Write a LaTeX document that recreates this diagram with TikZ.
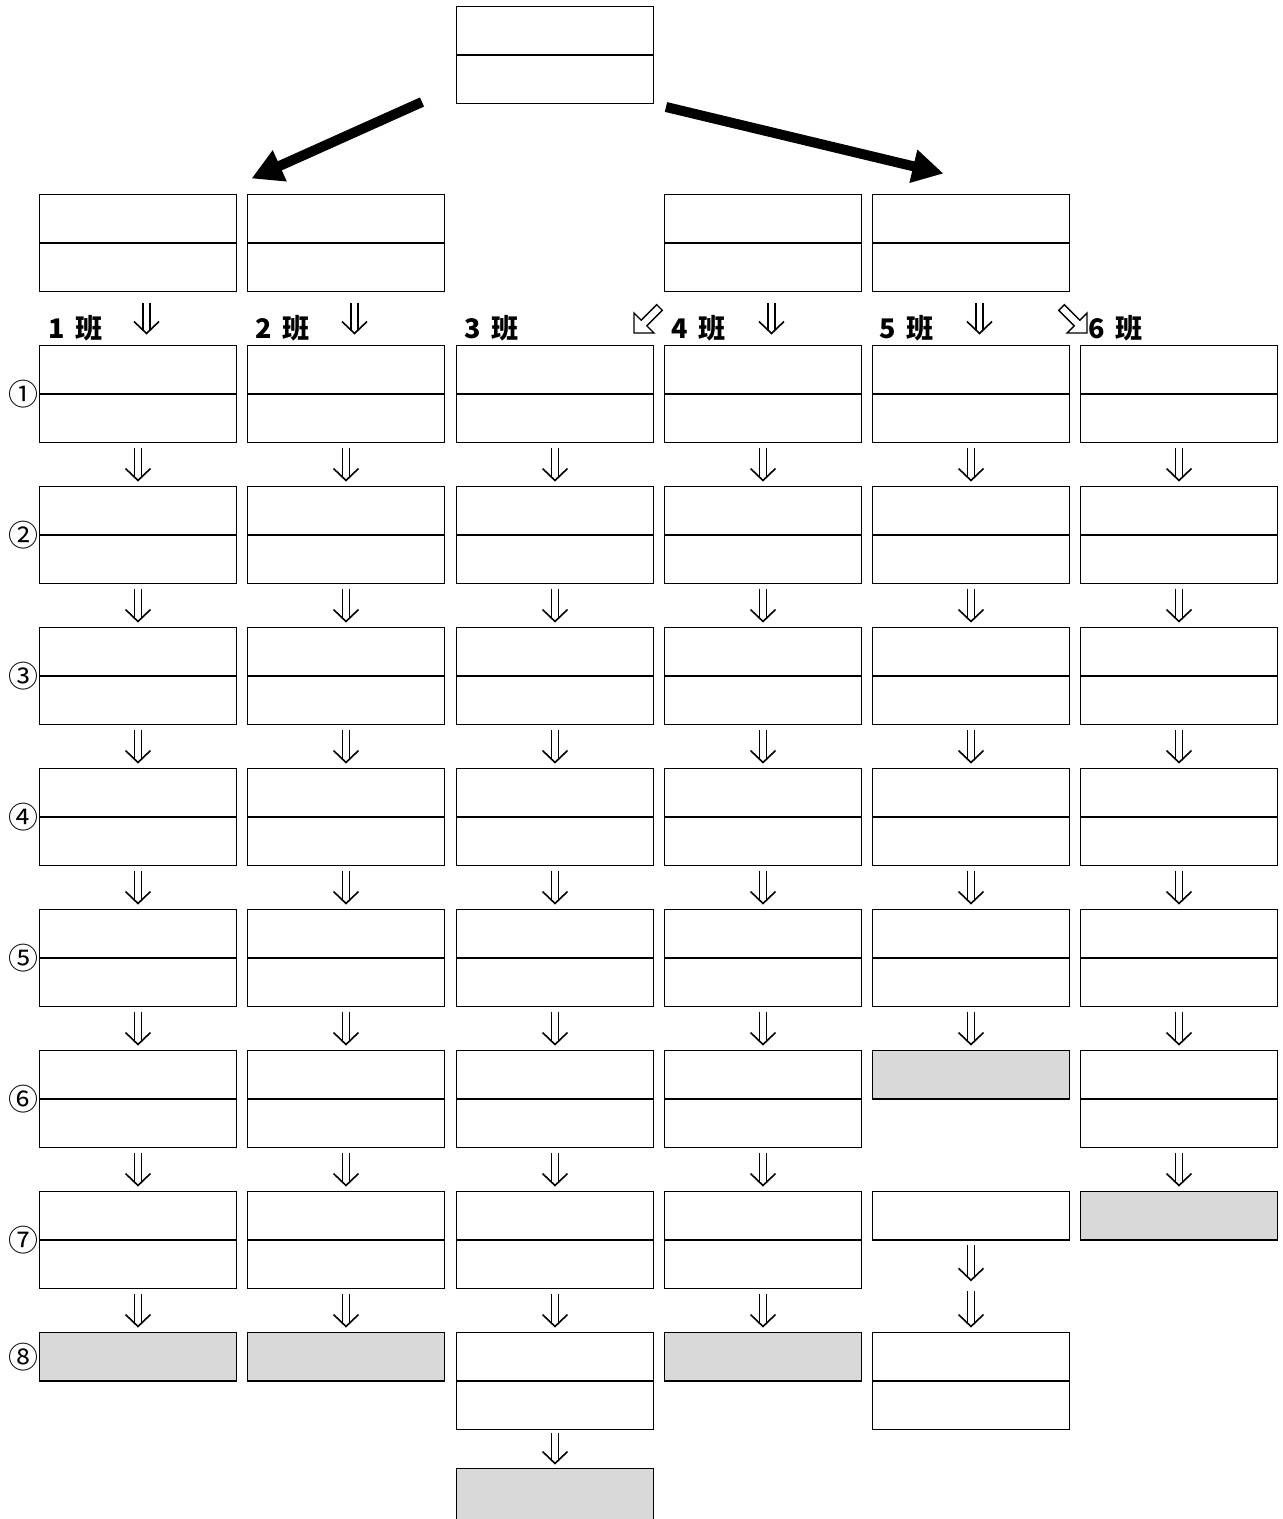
\documentclass[tikz,border=0pt]{standalone}
\usepackage{fontspec}
\newfontfamily\cjk{Noto Sans CJK JP}
\usetikzlibrary{calc,arrows.meta}
\definecolor{boxgray}{HTML}{D9D9D9}
\tikzset{
  box/.style={draw, line width=1.8pt, minimum width=197pt, minimum height=97pt, inner sep=0pt, outer sep=0pt, anchor=north west},
  halfbox/.style={box, minimum height=48.5pt},
  grayhalf/.style={halfbox, fill=boxgray},
  split/.style={line width=1.7pt},
  dline/.style={line width=1.6pt, line cap=butt, line join=miter},
  bigarrow/.style={line width=10pt, line cap=butt, -{Triangle[length=31pt,width=32pt]}},
  hollow/.style={draw, line width=1.4pt, fill=white, line join=miter},
  lab/.style={anchor=base west, inner sep=0pt, font=\cjk\bfseries\fontsize{27}{27}\selectfont},
  rowlab/.style={anchor=east, inner sep=0pt, font=\cjk\fontsize{30}{30}\selectfont},
}
\newcommand\gap{\hspace{0.42em}}
\newcommand\fullbox[3]{\node[box] (#1) at (#2,#3) {}; \draw[split] (#1.west) -- (#1.east);}
\newcommand\dblarrow[2]{%
  \coordinate (dA) at (#1);
  \coordinate (dB) at (#2);
  \draw[dline] ($(dA)+(-3.5,0)$) -- ($(dB)+(-3.5,-3.4)$);
  \draw[dline] ($(dA)+(3.5,0)$) -- ($(dB)+(3.5,-3.4)$);
  \draw[dline] ($(dB)+(-12.5,-12)$) -- (dB) -- ($(dB)+(12.5,-12)$);}
\begin{document}
\begin{tikzpicture}[x=1pt,y=-1pt]
\clip (0,0) rectangle (1283,1519);
\fill[white] (0,0) rectangle (1283,1519);
% top box
\fullbox{top}{456.5}{6.5}
% second level
\fullbox{b0-1}{39.5}{194.5}
\fullbox{b0-2}{247.5}{194.5}
\fullbox{b0-4}{664.5}{194.5}
\fullbox{b0-5}{872.5}{194.5}
% thick arrows
\coordinate (la0) at (422,102);
\coordinate (la1) at (251.5,178.5);
\coordinate (ra0) at (666,107);
\coordinate (ra1) at (943.5,173.5);
\draw[bigarrow] (la0) -- (la1);
\draw[bigarrow] (ra0) -- (ra1);
% rows 1-5
\foreach \r in {1,...,5}{
  \foreach \c/\x in {1/39.5,2/247.5,3/456.5,4/664.5,5/872.5,6/1080.5}{
    \pgfmathsetmacro\y{345.5+141*(\r-1)}
    \fullbox{b\r-\c}{\x}{\y}
  }
}
% row 6
\fullbox{b6-1}{39.5}{1050.5}
\fullbox{b6-2}{247.5}{1050.5}
\fullbox{b6-3}{456.5}{1050.5}
\fullbox{b6-4}{664.5}{1050.5}
\node[grayhalf] (b6-5) at (872.5,1050.5) {};
\fullbox{b6-6}{1080.5}{1050.5}
% row 7
\fullbox{b7-1}{39.5}{1191.5}
\fullbox{b7-2}{247.5}{1191.5}
\fullbox{b7-3}{456.5}{1191.5}
\fullbox{b7-4}{664.5}{1191.5}
\node[halfbox] (b7-5) at (872.5,1191.5) {};
\node[grayhalf] (b7-6) at (1080.5,1191.5) {};
% row 8
\node[grayhalf] (b8-1) at (39.5,1332.5) {};
\node[grayhalf] (b8-2) at (247.5,1332.5) {};
\fullbox{b8-3}{456.5}{1332.5}
\node[grayhalf] (b8-4) at (664.5,1332.5) {};
\fullbox{b8-5}{872.5}{1332.5}
% row 9 (cut off at the bottom edge)
\node[grayhalf, minimum height=70pt] (b9-3) at (456.5,1468.5) {};
% row labels
\node[rowlab] (n1) at ([xshift=-1pt]b1-1.west) {①};
\node[rowlab] (n2) at ([xshift=-1pt]b2-1.west) {②};
\node[rowlab] (n3) at ([xshift=-1pt]b3-1.west) {③};
\node[rowlab] (n4) at ([xshift=-1pt]b4-1.west) {④};
\node[rowlab] (n5) at ([xshift=-1pt]b5-1.west) {⑤};
\node[rowlab] (n6) at ([xshift=-1pt]b6-1.west) {⑥};
\node[rowlab] (n7) at ([xshift=-1pt]b7-1.west) {⑦};
\node[rowlab] (n8) at ([xshift=-1pt]b8-1.west) {⑧};
% group labels
\node[lab] (l1) at (48,338) {1\gap 班};
\node[lab] (l2) at (255,338) {2\gap 班};
\node[lab] (l3) at (464,338) {3\gap 班};
\node[lab] (l4) at (671,338) {4\gap 班};
\node[lab] (l5) at (879,338) {5\gap 班};
\node[lab] (l6) at (1088,338) {6\gap 班};
% header arrows
\foreach \c in {1,2,4,5}{
  \dblarrow{$(b0-\c.south)+(8.5,11)$}{$(b1-\c.north)+(8.5,-12)$}
}
% hollow diagonal arrows
\draw[hollow] (634,333) -- (654,333) -- (646.8,325.8) -- (662.3,310.3) -- (656.7,304.7) -- (641.2,320.2) -- (634,313) -- cycle;
\draw[hollow] (1087,333) -- (1067,333) -- (1074.2,325.8) -- (1058.7,310.3) -- (1064.3,304.7) -- (1079.8,320.2) -- (1087,313) -- cycle;
% row arrows
\foreach \r [evaluate=\r as \s using int(\r+1)] in {1,...,5}{
  \foreach \c in {1,...,6}{
    \dblarrow{$(b\r-\c.south)+(0,5)$}{$(b\s-\c.north)+(0,-6)$}
  }
}
\foreach \c in {1,2,3,4,6}{
  \dblarrow{$(b6-\c.south)+(0,5)$}{$(b7-\c.north)+(0,-6)$}
}
\foreach \c in {1,2,3,4}{
  \dblarrow{$(b7-\c.south)+(0,5)$}{$(b8-\c.north)+(0,-6)$}
}
\coordinate (mid5) at ($(b7-5.south)!0.5!(b8-5.north)$);
\dblarrow{$(b7-5.south)+(0,5)$}{$(mid5)+(0,-6)$}
\dblarrow{$(mid5)+(0,5)$}{$(b8-5.north)+(0,-6)$}
\dblarrow{$(b8-3.south)+(0,3)$}{$(b9-3.north)+(0,-5)$}
\end{tikzpicture}
\end{document}
